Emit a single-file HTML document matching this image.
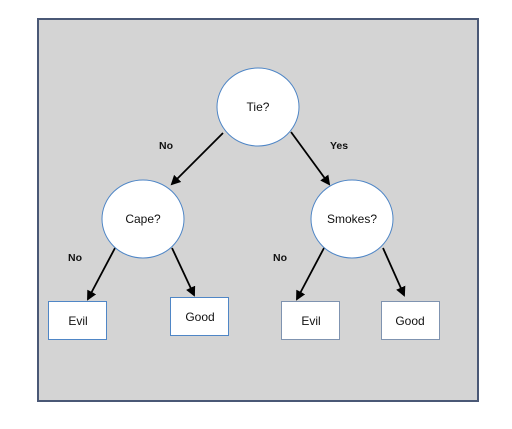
<!DOCTYPE html>
<html><head><meta charset="utf-8"><style>
html,body{margin:0;padding:0;background:#fff;width:512px;height:429px;overflow:hidden}
svg{display:block}
text{font-family:"Liberation Sans",sans-serif;fill:#111}
</style></head><body>
<svg width="512" height="429" viewBox="0 0 512 429">
<defs><marker id="a" markerWidth="10" markerHeight="10" refX="8" refY="5" orient="auto" markerUnits="userSpaceOnUse"><path d="M0,0 L10,5 L0,10 z" fill="#000"/></marker></defs>
<rect x="38" y="19" width="440" height="382" fill="#d4d4d4" stroke="#4a5876" stroke-width="2"/>
<g stroke="#000" stroke-width="1.8" marker-end="url(#a)">
<line x1="223" y1="133" x2="172" y2="184"/>
<line x1="291" y1="132" x2="329" y2="184"/>
<line x1="115" y1="248" x2="88" y2="299"/>
<line x1="172" y1="248" x2="194" y2="295"/>
<line x1="324" y1="248" x2="297" y2="299"/>
<line x1="383" y1="248" x2="404" y2="295"/>
</g>
<g fill="#fff" stroke="#4f86c6" stroke-width="1">
<ellipse cx="258" cy="107" rx="41" ry="39"/>
<ellipse cx="143" cy="219" rx="41" ry="39"/>
<ellipse cx="352" cy="219" rx="41" ry="39"/>
<rect x="48.5" y="301.5" width="58" height="38"/>
<rect x="170.5" y="297.5" width="58" height="38"/>
<rect x="281.5" y="301.5" width="58" height="38" stroke="#7f93b0"/>
<rect x="381.5" y="301.5" width="58" height="38" stroke="#7f93b0"/>
</g>
<g font-size="12" text-anchor="middle">
<text x="258" y="111">Tie?</text>
<text x="143" y="223">Cape?</text>
<text x="352" y="223">Smokes?</text>
<text x="78" y="325">Evil</text>
<text x="200" y="321">Good</text>
<text x="311" y="325">Evil</text>
<text x="410" y="325">Good</text>
</g>
<g font-size="10.5" font-weight="bold" text-anchor="middle">
<text x="166" y="149">No</text>
<text x="339" y="149">Yes</text>
<text x="75" y="261">No</text>
<text x="280" y="261">No</text>
</g>
</svg>
</body></html>
